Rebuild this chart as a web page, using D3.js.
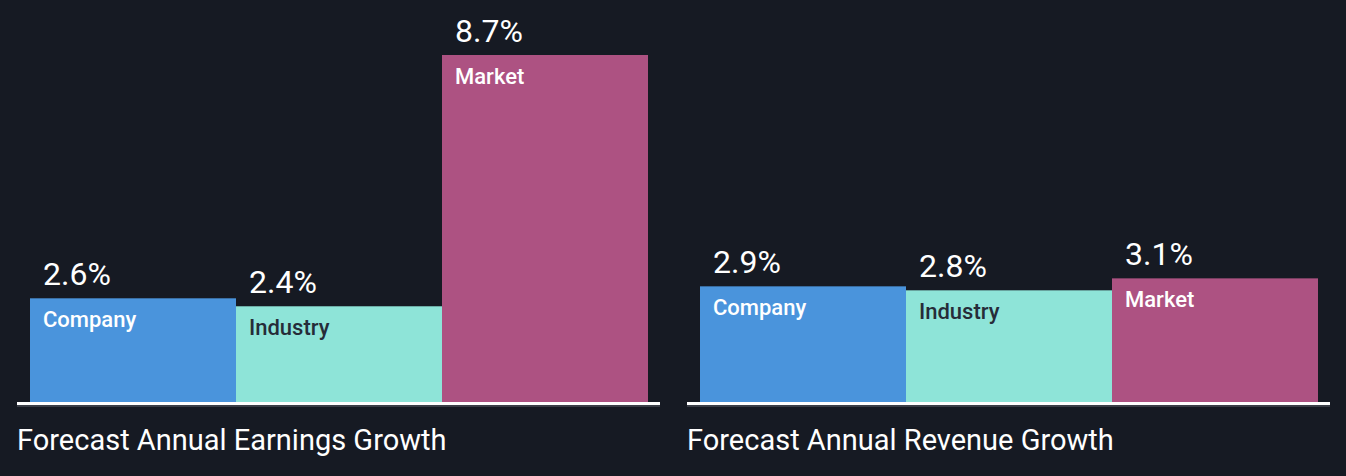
<!DOCTYPE html>
<html>
<head>
<meta charset="utf-8">
<script src="https://cdn.jsdelivr.net/npm/d3@7"></script>
<style>
  html, body { margin: 0; padding: 0; background: #161a23; }
  svg { display: block; }
</style>
</head>
<body>
<svg id="chart" width="1346" height="476"></svg>
<script>
const categories = ["Company", "Industry", "Market"];
const earningsValues = [2.6, 2.4, 8.7];
const revenueValues = [2.9, 2.8, 3.1];
const panelTitles = ["Forecast Annual Earnings Growth", "Forecast Annual Revenue Growth"];
const colors = ["#4a94dc", "#8ee4d8", "#ad5282"];
const labelColors = ["#ffffff", "#262c38", "#ffffff"];

const panels = [
  { title: panelTitles[0], values: earningsValues, x0: 17 },
  { title: panelTitles[1], values: revenueValues, x0: 687 }
];

const svg = d3.select("#chart");
const baseY = 402;
const font = "Roboto, 'Noto Sans', sans-serif";

const maxV = d3.max(panels.flatMap(p => p.values));
const y = d3.scaleLinear().domain([0, maxV]).range([baseY, 55]);

panels.forEach(p => {
  const g = svg.append("g");
  const x = d3.scaleBand().domain(categories).range([p.x0 + 13, p.x0 + 631]).padding(0);

  g.selectAll("rect.bar").data(p.values).enter().append("rect")
    .attr("class", "bar")
    .attr("x", (d, i) => x(categories[i]))
    .attr("width", x.bandwidth())
    .attr("y", d => y(d))
    .attr("height", d => baseY - y(d))
    .attr("fill", (d, i) => colors[i]);

  g.selectAll("text.val").data(p.values).enter().append("text")
    .attr("class", "val")
    .attr("x", (d, i) => x(categories[i]) + 13)
    .attr("y", d => y(d) - 13)
    .attr("fill", "#ffffff")
    .attr("font-family", font)
    .attr("font-size", 32)
    .text(d => d.toFixed(1) + "%");

  g.selectAll("text.cat").data(p.values).enter().append("text")
    .attr("class", "cat")
    .attr("x", (d, i) => x(categories[i]) + 13)
    .attr("y", d => y(d) + 29)
    .attr("fill", (d, i) => labelColors[i])
    .attr("font-family", font)
    .attr("font-weight", 500)
    .attr("font-size", 22)
    .text((d, i) => categories[i]);

  g.append("rect")
    .attr("x", p.x0).attr("width", 643)
    .attr("y", baseY + 3).attr("height", 2)
    .attr("fill", "#3a3e47");
  g.append("rect")
    .attr("x", p.x0).attr("width", 643)
    .attr("y", baseY).attr("height", 3)
    .attr("fill", "#ffffff");

  g.append("text")
    .attr("x", p.x0)
    .attr("y", 450)
    .attr("fill", "#ffffff")
    .attr("font-family", font)
    .attr("font-size", 29)
    .text(p.title);
});
</script>
</body>
</html>
